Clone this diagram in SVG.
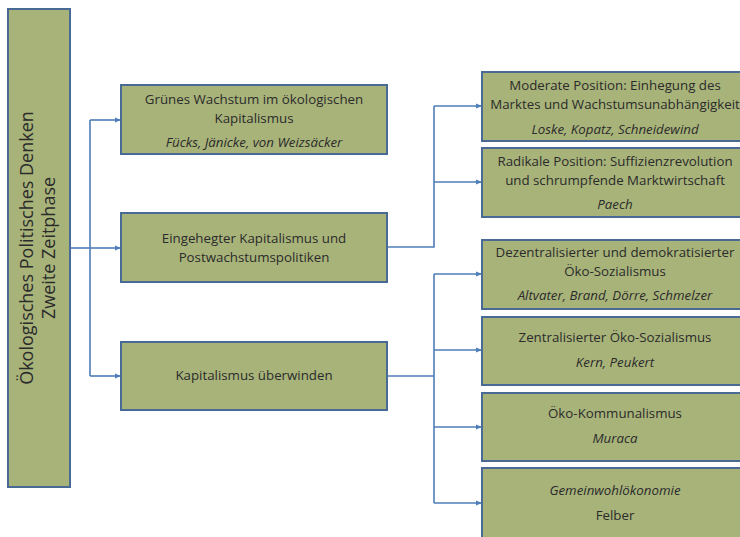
<svg xmlns="http://www.w3.org/2000/svg" width="740" height="537" viewBox="0 0 740 537">
<style>
.box{fill:#A8B37A;stroke:#4A6A96;stroke-width:2}
.t{font-family:"Open Sans","Noto Sans",sans-serif;font-size:13.3px;fill:#2B2B2B;text-anchor:middle}
.i{font-style:italic}
.root{font-family:"Open Sans","Noto Sans",sans-serif;font-size:18px;fill:#2B2B2B;text-anchor:middle}
.c{fill:none;stroke:#4F7DB8;stroke-width:1.6}
</style>
<defs>
<marker id="a" markerWidth="6" markerHeight="6" refX="5" refY="3" orient="auto" markerUnits="userSpaceOnUse">
<path d="M0,0.5 L6,3 L0,5.5 Z" fill="#4F7DB8"/>
</marker>
</defs>
<g id="connectors">
<path class="c" d="M70,248 H90"/>
<path class="c" d="M90,120 V376"/>
<path class="c" d="M90,120 H120" marker-end="url(#a)"/>
<path class="c" d="M90,248 H120" marker-end="url(#a)"/>
<path class="c" d="M90,376 H120" marker-end="url(#a)"/>
<path class="c" d="M387,247 H434 V106"/>
<path class="c" d="M434,106 H481" marker-end="url(#a)"/>
<path class="c" d="M434,182 H481" marker-end="url(#a)"/>
<path class="c" d="M387,376 H434"/>
<path class="c" d="M434,274 V503"/>
<path class="c" d="M434,274 H481" marker-end="url(#a)"/>
<path class="c" d="M434,350 H481" marker-end="url(#a)"/>
<path class="c" d="M434,427 H481" marker-end="url(#a)"/>
<path class="c" d="M434,503 H481" marker-end="url(#a)"/>
</g>
<g id="root">
<rect class="box" x="8" y="9" width="62" height="478"/>
<text class="root" transform="translate(33,248) rotate(-90)">Ökologisches Politisches Denken</text>
<text class="root" transform="translate(55,248) rotate(-90)">Zweite Zeitphase</text>
</g>
<g id="gruenes">
<rect class="box" x="121" y="85" width="266" height="69"/>
<text class="t" x="254" y="104">Grünes Wachstum im ökologischen</text>
<text class="t" x="254" y="123">Kapitalismus</text>
<text class="t i" x="254" y="147">Fücks, Jänicke, von Weizsäcker</text>
</g>
<g id="eingehegt">
<rect class="box" x="121" y="213" width="266" height="69"/>
<text class="t" x="254" y="243">Eingehegter Kapitalismus und</text>
<text class="t" x="254" y="262">Postwachstumspolitiken</text>
</g>
<g id="ueberwinden">
<rect class="box" x="121" y="342" width="266" height="68"/>
<text class="t" x="254" y="380">Kapitalismus überwinden</text>
</g>
<g id="moderate">
<rect class="box" x="482" y="72" width="266" height="69"/>
<text class="t" x="615" y="90">Moderate Position: Einhegung des</text>
<text class="t" x="615" y="109">Marktes und Wachstumsunabhängigkeit</text>
<text class="t i" x="615" y="134">Loske, Kopatz, Schneidewind</text>
</g>
<g id="radikale">
<rect class="box" x="482" y="148" width="266" height="69"/>
<text class="t" x="615" y="166">Radikale Position: Suffizienzrevolution</text>
<text class="t" x="615" y="185">und schrumpfende Marktwirtschaft</text>
<text class="t i" x="615" y="209">Paech</text>
</g>
<g id="dezentral">
<rect class="box" x="482" y="240" width="266" height="69"/>
<text class="t" x="615" y="257">Dezentralisierter und demokratisierter</text>
<text class="t" x="615" y="276">Öko-Sozialismus</text>
<text class="t i" x="615" y="300">Altvater, Brand, Dörre, Schmelzer</text>
</g>
<g id="zentral">
<rect class="box" x="482" y="317" width="266" height="68"/>
<text class="t" x="615" y="342">Zentralisierter Öko-Sozialismus</text>
<text class="t i" x="615" y="367">Kern, Peukert</text>
</g>
<g id="kommunal">
<rect class="box" x="482" y="393" width="266" height="68"/>
<text class="t" x="615" y="418">Öko-Kommunalismus</text>
<text class="t i" x="615" y="443">Muraca</text>
</g>
<g id="gemeinwohl">
<rect class="box" x="482" y="468" width="266" height="80"/>
<text class="t i" x="615" y="495">Gemeinwohlökonomie</text>
<text class="t" x="615" y="520">Felber</text>
</g>
</svg>
